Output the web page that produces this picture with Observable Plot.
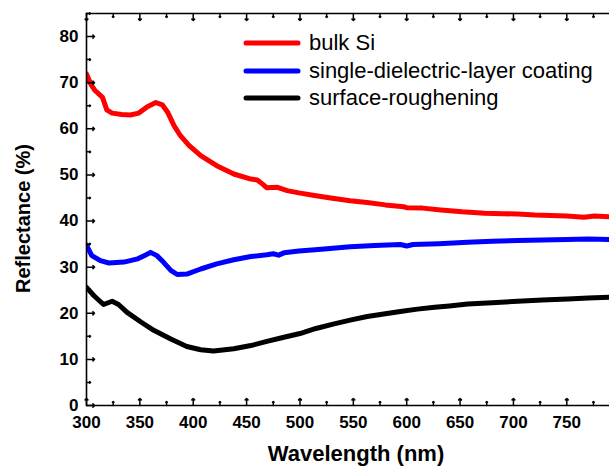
<!DOCTYPE html>
<html>
<head>
<meta charset="utf-8">
<script src="https://cdn.jsdelivr.net/npm/d3@7"></script>
<script src="https://cdn.jsdelivr.net/npm/@observablehq/plot@0.6"></script>
<style>
  html, body { margin: 0; padding: 0; background: #fff; }
  #wrap { position: relative; width: 609px; height: 468px; overflow: hidden; font-family: "Liberation Sans", Arial, sans-serif; }
  #legend { position: absolute; left: 243px; top: 29px; }
  .row { display: flex; align-items: center; height: 27.8px; }
  .row svg { width: 60px; height: 10px; display: block; }
  .row span { margin-left: 6px; font-size: 22px; color: #000; line-height: 1; }
</style>
</head>
<body>
<div id="wrap"></div>
<script>
const seriesNames = ["bulk Si", "single-dielectric-layer coating", "surface-roughening"];
const seriesColors = ["#ff0000", "#0000ff", "#000000"];

const siX = [300, 304, 308, 315, 319, 324, 333, 341, 349, 357, 365, 371, 376, 382, 388, 396, 407, 422, 438, 454, 460, 465, 469, 479, 488, 499, 515, 532, 547, 563, 580, 597, 600, 615, 632, 652, 673, 690, 704, 720, 735, 750, 766, 776, 790];
const siY = [71.9, 69.7, 68.3, 66.8, 64.1, 63.4, 63.1, 63.0, 63.4, 64.8, 65.7, 65.2, 63.6, 60.7, 58.5, 56.4, 54.2, 52.0, 50.2, 49.1, 48.9, 48.0, 47.2, 47.3, 46.6, 46.1, 45.5, 44.9, 44.4, 44.0, 43.5, 43.1, 42.9, 42.8, 42.4, 42.0, 41.7, 41.6, 41.5, 41.3, 41.2, 41.1, 40.8, 41.1, 40.9];

const coatX = [300, 305, 313, 321, 335, 348, 355, 360, 366, 372, 379, 385, 394, 407, 422, 438, 454, 469, 475, 480, 485, 499, 520, 547, 570, 594, 600, 606, 630, 657, 680, 704, 727, 750, 770, 790];
const coatY = [34.7, 32.5, 31.4, 30.9, 31.1, 31.8, 32.6, 33.2, 32.5, 31.1, 29.3, 28.4, 28.5, 29.6, 30.7, 31.6, 32.3, 32.7, 32.9, 32.6, 33.1, 33.5, 33.9, 34.4, 34.7, 34.9, 34.6, 34.9, 35.1, 35.4, 35.6, 35.8, 35.9, 36.0, 36.1, 36.0];

const roughX = [300, 307, 316, 324, 330, 338, 351, 363, 379, 394, 407, 419, 438, 454, 469, 485, 500, 515, 532, 547, 563, 580, 594, 610, 626, 640, 657, 680, 704, 727, 751, 770, 790];
const roughY = [25.6, 23.8, 21.9, 22.6, 21.9, 20.2, 18.1, 16.3, 14.4, 12.8, 12.1, 11.8, 12.3, 13.0, 13.9, 14.8, 15.6, 16.7, 17.7, 18.5, 19.3, 19.9, 20.4, 20.9, 21.3, 21.6, 22.0, 22.3, 22.6, 22.9, 23.1, 23.3, 23.5];

const xMajor = [300, 350, 400, 450, 500, 550, 600, 650, 700, 750];
const xMinor = [325, 375, 425, 475, 525, 575, 625, 675, 725, 775];
const yMajor = [0, 10, 20, 30, 40, 50, 60, 70, 80];
const yMinor = [5, 15, 25, 35, 45, 55, 65, 75, 85];
const xDomain = [300, 790];
const yDomain = [0, 85];

const xs = [siX, coatX, roughX];
const ys = [siY, coatY, roughY];
const data = seriesNames.flatMap((s, i) => xs[i].map((x, j) => ({series: s, x, y: ys[i][j]})));

const font = '"Liberation Sans", Arial, sans-serif';
const tick = {stroke: "#000", strokeWidth: 1.5, anchor: "start"};

const chart = Plot.plot({
  width: 609,
  height: 468,
  marginLeft: 86,
  marginRight: 0,
  marginTop: 13,
  marginBottom: 63,
  style: {fontFamily: font, background: "#fff", overflow: "visible"},
  x: {domain: xDomain},
  y: {domain: yDomain},
  color: {domain: seriesNames, range: seriesColors},
  marks: [
    Plot.line(data, {x: "x", y: "y", z: "series", stroke: "series", strokeWidth: 5, strokeLinejoin: "round", clip: true}),
    // frame lines
    Plot.ruleX([xDomain[0]], {stroke: "#000", strokeWidth: 1.6}),
    Plot.ruleY([yDomain[0]], {stroke: "#000", strokeWidth: 1.6}),
    Plot.ruleY([yDomain[1]], {stroke: "#000", strokeWidth: 1.6}),
    // inward ticks, bottom
    Plot.vector(xMajor, {x: d => d, frameAnchor: "bottom", rotate: 0, length: 7, ...tick}),
    Plot.vector(xMinor, {x: d => d, frameAnchor: "bottom", rotate: 0, length: 4, ...tick}),
    // inward ticks, top
    Plot.vector(xMajor, {x: d => d, frameAnchor: "top", rotate: 180, length: 7, ...tick}),
    Plot.vector(xMinor, {x: d => d, frameAnchor: "top", rotate: 180, length: 4, ...tick}),
    // inward ticks, left
    Plot.vector(yMajor, {y: d => d, frameAnchor: "left", rotate: 90, length: 8, ...tick}),
    Plot.vector(yMinor, {y: d => d, frameAnchor: "left", rotate: 90, length: 4, ...tick}),
    // tick labels
    Plot.axisX({anchor: "bottom", ticks: xMajor, tickSize: 0, tickPadding: 10, tickFormat: d => String(d), fontSize: 17, fontWeight: "bold", fill: "#000", label: null}),
    Plot.axisY({anchor: "left", ticks: yMajor, tickSize: 0, tickPadding: 8, tickFormat: d => String(d), fontSize: 17, fontWeight: "bold", fill: "#000", label: null}),
    // axis titles
    Plot.text(["Wavelength (nm)"], {frameAnchor: "bottom", textAnchor: "middle", dx: 8, dy: 55, lineAnchor: "bottom", fontSize: 22, fontWeight: "bold", fill: "#000"}),
    Plot.text(["Reflectance (%)"], {frameAnchor: "left", textAnchor: "middle", rotate: -90, dx: -63, dy: 9, fontSize: 20, fontWeight: "bold", fill: "#000"})
  ]
});

const wrap = document.getElementById("wrap");
wrap.appendChild(chart);

const legend = document.createElement("div");
legend.id = "legend";
seriesNames.forEach((name, i) => {
  const row = document.createElement("div");
  row.className = "row";
  row.innerHTML = `<svg viewBox="0 0 60 10"><line x1="3" y1="5" x2="55" y2="5" stroke="${seriesColors[i]}" stroke-width="5" stroke-linecap="round"/></svg><span>${name}</span>`;
  legend.appendChild(row);
});
wrap.appendChild(legend);
</script>
</body>
</html>
